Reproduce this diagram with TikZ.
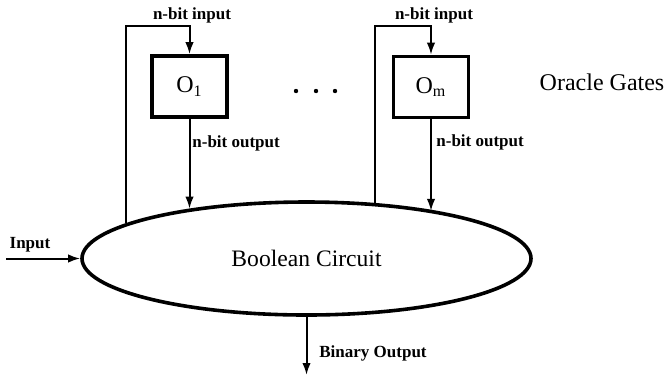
\documentclass[tikz,border=0pt]{standalone}
\usepackage{fontspec}
\setmainfont{Liberation Serif}
\usetikzlibrary{arrows.meta,shapes.geometric}

\begin{document}
\begin{tikzpicture}[x=0.5pt,y=-0.5pt,>={Latex[length=6pt,width=4.2pt]},
    every node/.style={inner sep=0pt},
    lbl/.style={font=\fontsize{8.5}{10}\selectfont\bfseries},
    gate/.style={draw,line width=1.8pt,minimum width=37.5pt,minimum height=30.5pt,font=\fontsize{12}{14}\selectfont},
    wire/.style={line width=1pt}]
    \useasboundingbox (0,0) rectangle (667,376);
    \node[ellipse,draw,line width=1.8pt,minimum width=224.5pt,minimum height=56.5pt,font=\fontsize{11.8}{14}\selectfont] (bc) at (306.5,258.5) {Boolean Circuit};
    \node[gate] (o1) at (189.5,86.5) {O\textsubscript{1}};
    \node[gate] (om) at (431,87) {O\textsubscript{m}};
    \node[font=\fontsize{12}{14}\selectfont] (og) at (602,82) {Oracle Gates};
    \coordinate (t1) at (189.5,26);
    \coordinate (tm) at (431,26);
    \coordinate (in) at (6,258.5);
    \coordinate (out) at (306.5,375);
    \draw[wire,->] (bc.169.1) |- (t1) -- (o1.north);
    \draw[wire,->] (o1.south) -- (o1.south |- bc.157.6);
    \draw[wire,->] (bc.39.5) |- (tm) -- (om.north);
    \draw[wire,->] (om.south) -- (om.south |- bc.20.7);
    \draw[wire,->] (in) -- (bc.west);
    \draw[wire,->] (bc.south) -- (out);
    \node[lbl] (in1) at (192,15) {n-bit input};
    \node[lbl] (inm) at (434,15) {n-bit input};
    \node[lbl,anchor=west] (out1) at (192,143) {n-bit output};
    \node[lbl,anchor=west] (outm) at (436,142) {n-bit output};
    \node[lbl] (inl) at (30,245) {Input};
    \node[lbl,anchor=west] (outl) at (319,353) {Binary Output};
    % dots between the gates
    \foreach \x in {296,316,335}
      \fill (\x,91) circle (1.1pt);
  \end{tikzpicture}
\end{document}
